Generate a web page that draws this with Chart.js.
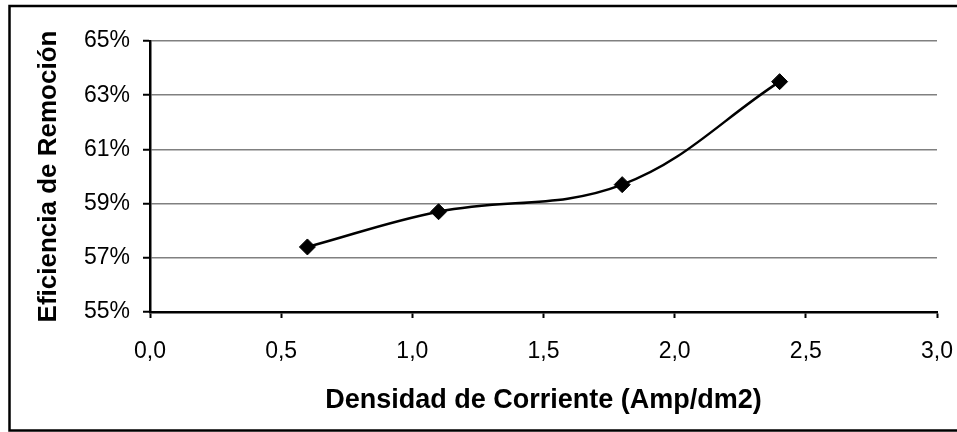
<!DOCTYPE html>
<html lang="es">
<head>
<meta charset="utf-8">
<title>Eficiencia de Remoción vs Densidad de Corriente</title>
<script src="https://cdn.jsdelivr.net/npm/chart.js@4.4.1/dist/chart.umd.min.js"></script>
<style>
  html, body { margin: 0; padding: 0; background: #ffffff; }
  #wrap { width: 957px; height: 432px; position: relative; }
</style>
</head>
<body>
<div id="wrap"><canvas id="chart" width="957" height="432"></canvas></div>
<script>
// Current density (Amp/dm2) and removal efficiency (%)
const densidad = [0.6, 1.1, 1.8, 2.4];
const eficiencia = [57.4, 58.7, 59.7, 63.5];

// Axis ranges and tick labels
const xTicks = [0.0, 0.5, 1.0, 1.5, 2.0, 2.5, 3.0];
const xTickLabels = ['0,0', '0,5', '1,0', '1,5', '2,0', '2,5', '3,0'];
const yTicks = [55, 57, 59, 61, 63, 65];
const yTickLabels = ['55%', '57%', '59%', '61%', '63%', '65%'];

const xTitle = 'Densidad de Corriente (Amp/dm2)';
const yTitle = 'Eficiencia de Remoción';

const FONT = '"Liberation Sans", Arial, sans-serif';

// Frame around the whole chart
const framePlugin = {
  id: 'frame',
  beforeDraw(chart) {
    const ctx = chart.ctx;
    ctx.save();
    ctx.fillStyle = '#ffffff';
    ctx.fillRect(0, 0, chart.width, chart.height);
    ctx.restore();
  },
  afterDraw(chart) {
    const ctx = chart.ctx;
    ctx.save();
    ctx.strokeStyle = '#000000';
    ctx.lineWidth = 2.5;
    ctx.strokeRect(9.5, 6, chart.width + 10, 424.5);
    ctx.restore();
  }
};

new Chart(document.getElementById('chart'), {
  type: 'scatter',
  data: {
    datasets: [{
      data: densidad.map((x, i) => ({ x: x, y: eficiencia[i] })),
      showLine: true,
      tension: 0.38,
      borderColor: '#000000',
      borderWidth: 2.5,
      pointStyle: 'rectRot',
      pointRadius: 8,
      pointHoverRadius: 8,
      pointBackgroundColor: '#000000',
      pointBorderColor: '#000000',
      pointBorderWidth: 1
    }]
  },
  options: {
    responsive: false,
    animation: false,
    events: [],
    layout: { padding: { left: 0, right: 20, top: 41, bottom: 0 } },
    plugins: {
      legend: { display: false },
      tooltip: { enabled: false }
    },
    scales: {
      x: {
        type: 'linear',
        min: 0,
        max: 3,
        afterBuildTicks(scale) { scale.ticks = xTicks.map(v => ({ value: v })); },
        afterFit(scale) {
          scale.height = 120;
          scale.paddingLeft = 0;
          scale.paddingRight = 0;
        },
        ticks: {
          color: '#000000',
          font: { family: FONT, size: 23 },
          padding: 20,
          maxRotation: 0,
          autoSkip: false,
          callback: (v) => { const i = xTicks.indexOf(v); return i >= 0 ? xTickLabels[i] : ''; }
        },
        grid: {
          drawOnChartArea: false,
          drawTicks: true,
          tickLength: 6,
          tickColor: '#000000',
          tickWidth: 2
        },
        border: { display: true, color: '#000000', width: 2.5 },
        title: {
          display: true,
          text: xTitle,
          color: '#000000',
          font: { family: FONT, size: 27, weight: 'bold' },
          padding: { top: 0, bottom: 15 }
        }
      },
      y: {
        type: 'linear',
        min: 55,
        max: 65,
        afterBuildTicks(scale) { scale.ticks = yTicks.map(v => ({ value: v })); },
        afterFit(scale) { scale.width = 150; },
        ticks: {
          color: '#000000',
          font: { family: FONT, size: 23 },
          padding: 13,
          autoSkip: false,
          callback: (v) => { const i = yTicks.indexOf(v); return i >= 0 ? yTickLabels[i] : ''; }
        },
        grid: {
          color: '#808080',
          lineWidth: 1.5,
          drawTicks: true,
          tickLength: 7,
          tickColor: '#000000',
          tickWidth: 2
        },
        border: { display: true, color: '#000000', width: 2.5 },
        title: {
          display: true,
          text: yTitle,
          color: '#000000',
          font: { family: FONT, size: 26, weight: 'bold' },
          padding: { top: 33, bottom: 0 }
        }
      }
    }
  },
  plugins: [framePlugin]
});
</script>
</body>
</html>
